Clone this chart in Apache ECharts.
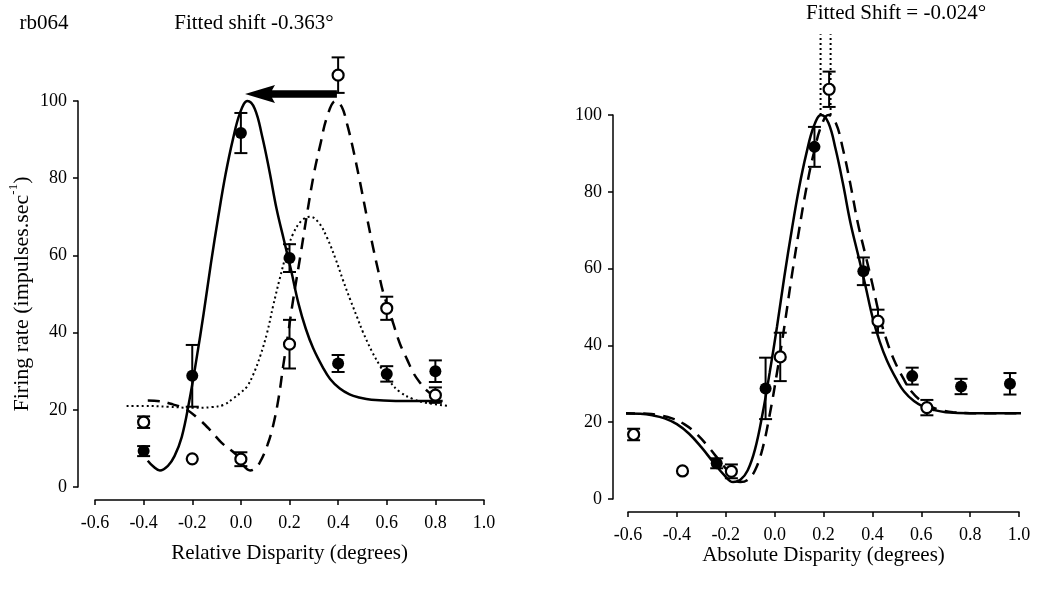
<!DOCTYPE html>
<html>
<head>
<meta charset="utf-8">
<script src="https://cdn.jsdelivr.net/npm/echarts@6/dist/echarts.min.js"></script>
<style>
html,body{margin:0;padding:0;background:#fff;}
#c{width:1038px;height:595px;}
</style>
</head>
<body>
<div id="c"></div>
<script>
// ---------- data ----------
const xTicks = [-0.6, -0.4, -0.2, 0.0, 0.2, 0.4, 0.6, 0.8, 1.0];
const yTicks = [0, 20, 40, 60, 80, 100];

// relative disparity of the measured points
const relX = [-0.4, -0.2, 0.0, 0.2, 0.4, 0.6, 0.8];
// filled circles
const filledMean = [9.3, 28.8, 91.7, 59.3, 32.0, 29.3, 30.0];
const filledErr  = [1.3, 8.0, 5.2, 3.6, 2.2, 2.0, 2.8];
// open circles
const openMean = [16.8, 7.3, 7.2, 37.0, 106.7, 46.3, 23.8];
const openErr  = [1.5, 0.0, 1.8, 6.3, 4.6, 3.0, 2.0];
// absolute disparity positions of the same points (right panel)
const absXFilled = [-0.237, -0.037, 0.163, 0.363, 0.563, 0.763, 0.963];
const absXOpen   = [-0.577, -0.377, -0.177, 0.023, 0.223, 0.423, 0.623];

// fitted curves, left panel
const leftSolid = [[-0.383,6.8],[-0.36,5.3],[-0.333,4.3],[-0.30,5.5],[-0.273,8.0],[-0.243,13],[-0.213,22],
  [-0.183,33],[-0.153,45],[-0.123,58],[-0.093,70],[-0.063,81],[-0.033,90],[-0.003,97],[0.027,100],
  [0.057,98],[0.087,91],[0.117,82],[0.147,72],[0.177,64],[0.207,56],[0.237,47.5],[0.267,41],[0.297,36],
  [0.337,31],[0.367,28],[0.407,25.5],[0.447,24],[0.487,23.2],[0.537,22.6],[0.637,22.3],[0.83,22.3]];
const leftDashed = [[-0.383,22.4],[-0.33,22.2],[-0.28,21.4],[-0.23,20.3],[-0.18,18],[-0.13,15],[-0.08,11.5],
  [-0.04,9.5],[-0.016,8.2],[0.01,5.6],[0.038,4.3],[0.06,4.9],[0.08,6.6],[0.11,11],[0.133,16],[0.155,23],
  [0.174,31.3],[0.195,40],[0.215,48.5],[0.245,60],[0.272,70.7],[0.30,81],[0.326,88.5],[0.355,96],[0.39,100],
  [0.415,98.5],[0.437,94],[0.46,88],[0.49,79],[0.515,71],[0.544,62],[0.565,56],[0.585,50.5],[0.626,42.5],
  [0.655,37],[0.684,33],[0.71,29.5],[0.737,27],[0.765,25],[0.79,23.8],[0.83,23]];
const leftDotted = [[-0.47,21],[-0.40,21],[-0.30,20.8],[-0.20,20.5],[-0.12,20.7],[-0.07,21.3],[-0.03,23],
  [0.0,24.5],[0.025,26],[0.05,29],[0.08,34],[0.108,40],[0.133,47],[0.16,54],[0.19,61],[0.215,65.6],
  [0.25,69],[0.285,70],[0.32,68.5],[0.355,64.5],[0.39,59],[0.42,53.6],[0.45,48.5],[0.478,44],
  [0.503,40],[0.54,35],[0.573,31.3],[0.61,27.5],[0.655,24.6],[0.708,22.8],[0.76,21.8],[0.86,21]];

// fitted curves, right panel
const rightSolid = [[-0.62,22.3],[-0.55,22.2],[-0.50,21.8],[-0.45,21],[-0.40,19.5],[-0.35,17],[-0.30,13.5],
  [-0.25,9.5],[-0.21,6.5],[-0.17,4.4],[-0.14,5],[-0.11,7.5],[-0.08,13],[-0.05,22],[-0.02,33],[0.01,45],
  [0.04,58],[0.07,70],[0.10,81],[0.13,90],[0.16,97],[0.19,100],[0.22,98],[0.25,91],[0.28,82],[0.31,72],
  [0.34,64],[0.37,56],[0.40,47.5],[0.43,41],[0.46,36],[0.50,31],[0.53,28],[0.57,25.5],[0.61,24],
  [0.65,23.2],[0.70,22.6],[0.80,22.3],[1.03,22.3]];
const rightDashed = [[-0.62,22.3],[-0.52,22.2],[-0.47,21.8],[-0.42,21],[-0.37,19.5],[-0.32,17],[-0.27,13.5],
  [-0.22,9.5],[-0.18,6.5],[-0.14,4.4],[-0.11,5],[-0.08,7.5],[-0.05,13],[-0.02,22],[0.01,33],[0.04,45],
  [0.07,58],[0.10,70],[0.13,81],[0.16,90],[0.19,97],[0.22,100],[0.25,98],[0.28,91],[0.31,82],[0.34,72],
  [0.37,64],[0.40,56],[0.43,47.5],[0.46,41],[0.49,36],[0.53,31],[0.56,28],[0.60,25.5],[0.64,24],
  [0.68,23.2],[0.73,22.6],[0.83,22.3],[1.03,22.3]];

// shift arrow (left) and peak markers (right)
const arrowFromX = 0.395, arrowToX = 0.017, arrowY = 101.8;
const peakLinesX = [0.188, 0.229];
const peakLinesY = [100, 121];

// texts
const labelId = 'rb064';
const leftTitle = 'Fitted shift -0.363\u00b0';
const rightTitle = 'Fitted Shift = -0.024\u00b0';
const leftXName = 'Relative Disparity (degrees)';
const rightXName = 'Absolute Disparity (degrees)';

// ---------- chart ----------
const FONT = "'Liberation Serif', 'Times New Roman', serif";
const BLACK = '#000';

function fmt(v){ return Math.abs(v) < 1e-9 ? '0.0' : v.toFixed(1); }

function xAxisCfg(idx, name, gap){
  return {
    type:'value', gridIndex:idx, min:-0.6, max:1.0, interval:0.2, offset:13,
    name:name, nameLocation:'middle', nameGap:gap, nameMoveOverlap:false,
    nameTextStyle:{fontFamily:FONT, fontSize:21, color:BLACK},
    axisLine:{show:true, onZero:false, lineStyle:{color:BLACK, width:1.5}},
    axisTick:{show:true, length:5, lineStyle:{color:BLACK, width:1.5}},
    axisLabel:{fontFamily:FONT, fontSize:18, color:BLACK, margin:14, formatter:fmt},
    splitLine:{show:false}
  };
}
function yAxisCfg(idx, offset, withName){
  const c = {
    type:'value', gridIndex:idx, min:0, max:100, interval:20, offset:offset,
    axisLine:{show:true, onZero:false, lineStyle:{color:BLACK, width:1.5}},
    axisTick:{show:true, length:5, lineStyle:{color:BLACK, width:1.5}},
    axisLabel:{fontFamily:FONT, fontSize:18, color:BLACK, margin:11},
    splitLine:{show:false}
  };
  if (withName){
    c.name = '{a|Firing rate (impulses.sec}{s|-1}{a|)}';
    c.nameLocation = 'middle';
    c.nameGap = 45;
    c.nameRotate = 90;
    c.nameMoveOverlap = false;
    c.nameTextStyle = {fontFamily:FONT, fontSize:22, color:BLACK,
      rich:{a:{fontFamily:FONT, fontSize:22, color:BLACK, lineHeight:26, verticalAlign:'bottom'},
            s:{fontFamily:FONT, fontSize:13, color:BLACK, lineHeight:26, verticalAlign:'top'}}};
  }
  return c;
}

function curve(idx, data, type, width){
  return {type:'line', xAxisIndex:idx, yAxisIndex:idx, data:data, showSymbol:false, smooth:0.4,
    clip:false, silent:true, z:2,
    lineStyle:{color:BLACK, width:width, type:type}};
}

function errBars(idx, xs, means, errs){
  return {type:'custom', xAxisIndex:idx, yAxisIndex:idx, clip:false, silent:true, z:3,
    data: xs.map((x,i)=>[x, means[i], errs[i]]),
    encode:{x:0, y:1},
    renderItem:function(params, api){
      const x = api.value(0), m = api.value(1), e = api.value(2);
      if (!(e > 0)) return null;
      const t = api.coord([x, m+e]), b = api.coord([x, m-e]);
      const w = 6.5, st = {stroke:BLACK, lineWidth:2};
      return {type:'group', children:[
        {type:'line', shape:{x1:t[0], y1:t[1], x2:b[0], y2:b[1]}, style:st},
        {type:'line', shape:{x1:t[0]-w, y1:t[1], x2:t[0]+w, y2:t[1]}, style:st},
        {type:'line', shape:{x1:b[0]-w, y1:b[1], x2:b[0]+w, y2:b[1]}, style:st}
      ]};
    }};
}

function points(idx, xs, means, filled){
  return {type:'scatter', xAxisIndex:idx, yAxisIndex:idx, clip:false, silent:true, z:4,
    data: xs.map((x,i)=>[x, means[i]]),
    symbol:'circle', symbolSize: filled ? 12 : 11,
    itemStyle: filled ? {color:BLACK, opacity:1} : {color:'#fff', borderColor:BLACK, borderWidth:2.2, opacity:1}};
}

const series = [
  curve(0, leftDotted, [2,3], 2),
  curve(0, leftDashed, [12,8], 2.5),
  curve(0, leftSolid, 'solid', 2.5),
  errBars(0, relX, filledMean, filledErr),
  errBars(0, relX, openMean, openErr),
  points(0, relX, filledMean, true),
  points(0, relX, openMean, false),
  {type:'custom', xAxisIndex:0, yAxisIndex:0, clip:false, silent:true, z:5,
    data:[[arrowFromX, arrowY, arrowToX]], encode:{x:0, y:1},
    renderItem:function(params, api){
      const p0 = api.coord([api.value(0), api.value(1)]);
      const p1 = api.coord([api.value(2), api.value(1)]);
      const y = p0[1], tip = p1[0], s = p0[0];
      const hl = 30, hh = 9, sh = 3.8;
      return {type:'polygon', shape:{points:[
        [tip, y], [tip+hl, y-hh], [tip+hl-3, y-sh], [s, y-sh], [s, y+sh], [tip+hl-3, y+sh], [tip+hl, y+hh]
      ]}, style:{fill:BLACK}};
    }},

  curve(1, rightDashed, [12,8], 2.5),
  curve(1, rightSolid, 'solid', 2.5),
  ...peakLinesX.map(px => ({type:'line', xAxisIndex:1, yAxisIndex:1, showSymbol:false, clip:false, silent:true, z:2,
    data: peakLinesY.map(py => [px, py]), lineStyle:{color:BLACK, width:2, type:[2,3]}})),
  errBars(1, absXFilled, filledMean, filledErr),
  errBars(1, absXOpen, openMean, openErr),
  points(1, absXFilled, filledMean, true),
  points(1, absXOpen, openMean, false)
];

function titleText(text, cx, cy){
  return {type:'text', x:cx, y:cy, silent:true,
    style:{text:text, fontFamily:FONT, fontSize:21, fill:BLACK, textAlign:'center', textVerticalAlign:'middle'}};
}

const chart = echarts.init(document.getElementById('c'), null, {renderer:'canvas'});
chart.setOption({
  backgroundColor:'#fff',
  animation:false,
  graphic:[
    titleText(labelId, 44, 23),
    titleText(leftTitle, 254, 23),
    titleText(rightTitle, 896, 13)
  ],
  grid:[
    {left:95, right:554, top:101, bottom:108},
    {left:628, right:19, top:115, bottom:96}
  ],
  xAxis:[ xAxisCfg(0, leftXName, 43), xAxisCfg(1, rightXName, 33) ],
  yAxis:[ yAxisCfg(0, 17, true), yAxisCfg(1, 15, false) ],
  series:series
});
</script>
</body>
</html>
